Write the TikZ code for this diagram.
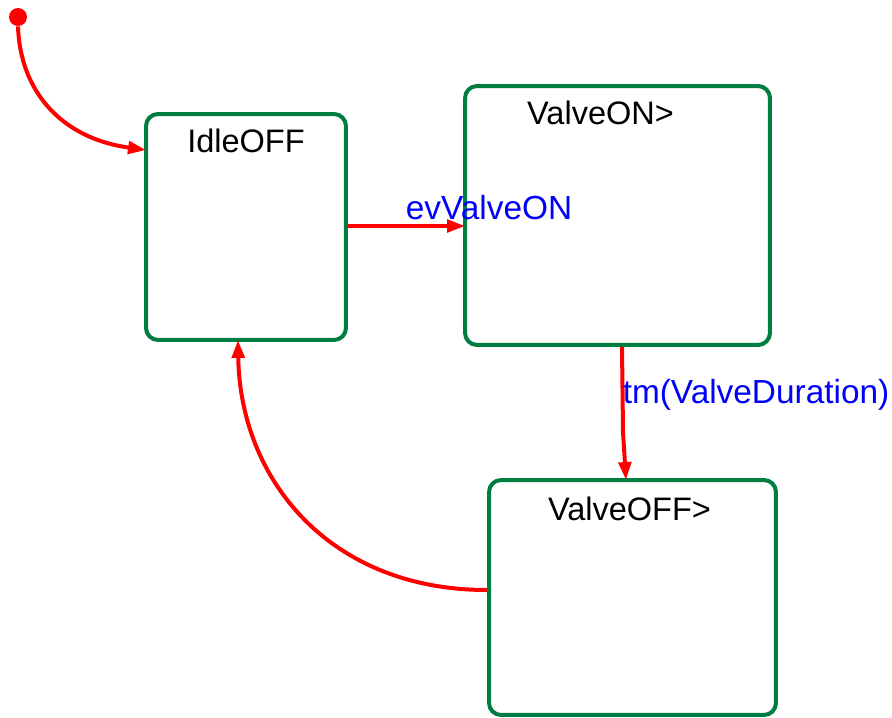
\documentclass[tikz,border=0pt]{standalone}
\usepackage{fontspec}
\setmainfont{Liberation Sans}
\usetikzlibrary{arrows.meta,positioning,calc}
\definecolor{stategreen}{RGB}{0,125,65}
\tikzset{
  state/.style={rectangle, rounded corners=0.24cm, draw=stategreen, line width=0.08cm, inner sep=0pt},
  title/.style={font=\fontsize{18.5}{20}\selectfont, text=black},
  trans/.style={-{Triangle[length=0.36cm,width=0.25cm]}, draw=red, line width=0.08cm},
  event/.style={font=\fontsize{19}{21}\selectfont, text=blue, inner sep=0pt}
}

\begin{document}
\begin{tikzpicture}[x=0.02cm, y=-0.02cm]
  \useasboundingbox (0,0) rectangle (892,717);

  % States
  \node[state, minimum width=4cm, minimum height=4.52cm] (idle) at (246,227) {};
  \node[state, minimum width=6.1cm, minimum height=5.18cm] (von) at (617.5,215.5) {};
  \node[state, minimum width=5.74cm, minimum height=4.7cm] (voff) at (632.5,597.5) {};

  % State names
  \node[title] (idlename) at ($(idle.north)+(0,29)$) {IdleOFF};
  \node[title] (vonname) at ($(von.north)+(-17,29)$) {ValveON>};
  \node[title] (voffname) at ($(voff.north)+(-3,31)$) {ValveOFF>};

  % Initial state
  \node[circle, fill=red, minimum size=0.36cm, inner sep=0pt] (init) at (18,17) {};
  \coordinate (idlein) at ($(idle.west)+(2,-77)$);
  \draw[trans] (init.south) .. controls (20,90) and (60,138) .. (idlein);

  % Transitions
  \draw[trans] (idle.east |- 0,226) -- ($(von.west |- 0,226)+(2,0)$);
  \node[event] (evon) at (489,208) {evValveON};

  \coordinate (vonout) at ($(von.south)+(4.5,0)$);
  \coordinate (voffin) at ($(voff.north)+(-6.5,2)$);
  \draw[trans] (vonout) -- ++(1,85) -- (voffin);
  \node[event] (evtm) at (756,395) {tm(ValveDuration)};

  \coordinate (voffout) at ($(voff.west)+(0,-7.5)$);
  \coordinate (idleback) at ($(idle.south)+(-8,-2)$);
  \draw[trans] (voffout) .. controls (330,590) and (240,480) .. (idleback);

\end{tikzpicture}
\end{document}
